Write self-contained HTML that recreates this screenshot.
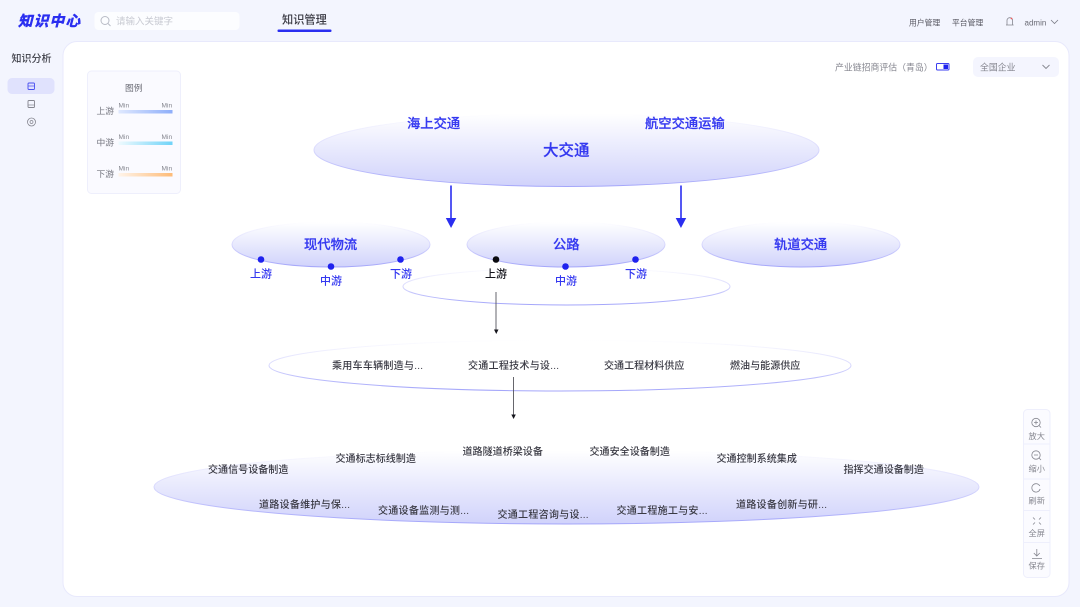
<!DOCTYPE html>
<html lang="zh-CN">
<head>
<meta charset="utf-8">
<title>知识中心</title>
<style>
html,body{margin:0;padding:0;width:1080px;height:607px;overflow:hidden;background:#f3f5fe}
svg{display:block;filter:blur(.3px)}
text{font-family:"Liberation Sans","Noto Sans CJK SC",sans-serif}
</style>
</head>
<body>
<svg width="1080" height="607" viewBox="0 0 1080 607" xmlns="http://www.w3.org/2000/svg">
<defs>
<linearGradient id="ov" x1="0" y1="0" x2="0" y2="1"><stop offset="0" stop-color="#ffffff"/><stop offset="1" stop-color="#d0d2fb"/></linearGradient>
<linearGradient id="st" x1="0" y1="0" x2="0" y2="1"><stop offset="0" stop-color="#ffffff"/><stop offset=".45" stop-color="#dcdcfd"/><stop offset="1" stop-color="#a4a6fa"/></linearGradient>
<linearGradient id="g1"><stop offset="0" stop-color="#dfe8fe"/><stop offset="1" stop-color="#8eaefa"/></linearGradient>
<linearGradient id="g2"><stop offset="0" stop-color="#eefafe"/><stop offset="1" stop-color="#6fd3f8"/></linearGradient>
<linearGradient id="g3"><stop offset="0" stop-color="#fff4ea"/><stop offset="1" stop-color="#fdbb78"/></linearGradient>
</defs>

<rect width="1080" height="607" fill="#f3f5fe"/>
<rect x="63" y="41.500" width="1006" height="555" rx="14" fill="#fff" stroke="#e8e9fc"/>

<!-- header -->
<text x="18" y="26" font-size="14.500" font-weight="700" font-style="italic" fill="#2a2ef0" stroke="#2a2ef0" stroke-width=".5" textLength="62">知识中心</text>
<rect x="94.500" y="12" width="145" height="18" rx="4" fill="#fcfdff"/>
<circle cx="105" cy="20.500" r="4" fill="none" stroke="#b9bcc6"/><line x1="108" y1="23.500" x2="110.500" y2="26" stroke="#b9bcc6"/>
<text x="116" y="24.500" font-size="9.500" fill="#c8cad2">请输入关键字</text>
<text x="282" y="23.500" font-size="11.200" font-weight="500" fill="#3a3a44">知识管理</text>
<rect x="277.500" y="29.500" width="54" height="2.500" rx="1" fill="#2a2ef0"/>
<text x="909" y="25.500" font-size="7.800" fill="#55555f">用户管理</text>
<text x="952" y="25.500" font-size="7.800" fill="#55555f">平台管理</text>
<path d="M1007 25v-4.500a2.800 2.800 0 0 1 5.600 0V25zM1006 25h7.600" fill="none" stroke="#85868f" stroke-width=".8"/>
<circle cx="1011.500" cy="18.500" r=".9" fill="#f05a5a"/>
<text x="1024.500" y="25.500" font-size="8" fill="#6a6b75">admin</text>
<path d="M1051 20l3.500 3.500 3.500-3.500" fill="none" stroke="#7b7c86" stroke-width=".8"/>

<!-- sidebar -->
<text x="11.500" y="62" font-size="10" font-weight="500" fill="#3f4049">知识分析</text>
<rect x="7.500" y="78" width="47" height="16" rx="4.500" fill="#e0e2fd"/>
<rect x="28" y="83" width="6.500" height="6.500" rx="1" fill="none" stroke="#4a50f0" stroke-width=".9"/><line x1="28" y1="86" x2="34.500" y2="86" stroke="#4a50f0" stroke-width=".7"/>
<rect x="28" y="100.500" width="6.500" height="7" rx="1" fill="none" stroke="#85868f" stroke-width=".9"/><line x1="28" y1="105" x2="34.500" y2="105" stroke="#85868f" stroke-width=".7"/>
<circle cx="31.500" cy="122" r="4" fill="none" stroke="#85868f" stroke-width=".8"/><circle cx="31.500" cy="122" r="1.500" fill="none" stroke="#85868f" stroke-width=".7"/>

<!-- legend -->
<rect x="87.500" y="71" width="93" height="122.500" rx="4" fill="#fafaff" stroke="#eeeffc"/>
<text x="125" y="91" font-size="8.800" fill="#6b6c76">图例</text>
<text x="96.500" y="114" font-size="8.800" fill="#74757f">上游</text>
<text x="96.500" y="145.500" font-size="8.800" fill="#74757f">中游</text>
<text x="96.500" y="177" font-size="8.800" fill="#74757f">下游</text>
<g font-size="6.600" fill="#85868f">
<text x="118.500" y="107.500">Min</text><text x="161.500" y="107.500">Min</text>
<text x="118.500" y="139">Min</text><text x="161.500" y="139">Min</text>
<text x="118.500" y="170.500">Min</text><text x="161.500" y="170.500">Min</text>
</g>
<rect x="118.500" y="110" width="54" height="3.500" fill="url(#g1)"/>
<rect x="118.500" y="141.500" width="54" height="3.500" fill="url(#g2)"/>
<rect x="118.500" y="173" width="54" height="3.500" fill="url(#g3)"/>

<!-- top right controls -->
<text x="835" y="70.500" font-size="8.900" fill="#85868f">产业链招商评估（青岛）</text>
<rect x="936.500" y="63.500" width="12.500" height="6.500" rx="1" fill="#fff" stroke="#3a3ef0"/>
<rect x="943.500" y="64.500" width="4.500" height="4.500" fill="#1f22ee"/>
<rect x="973" y="57" width="86" height="20" rx="5" fill="#f4f5fe"/>
<text x="980" y="70.500" font-size="8.900" fill="#85868f">全国企业</text>
<path d="M1042.500 65l3.500 3.500 3.500-3.500" fill="none" stroke="#85868f" stroke-width=".9"/>

<!-- big ellipse -->
<ellipse cx="566.500" cy="150" rx="252.500" ry="36.500" fill="url(#ov)" stroke="url(#st)"/>
<g fill="#3438f0" font-weight="500" stroke="#3438f0" stroke-width=".2">
<text x="407" y="128" font-size="13.300">海上交通</text>
<text x="645" y="128" font-size="13.300">航空交通运输</text>
<text x="543" y="155.500" font-size="15.500">大交通</text>
</g>

<!-- blue arrows -->
<line x1="451" y1="185.500" x2="451" y2="220" stroke="#2a2ef0" stroke-width="1.600"/>
<path d="M445.800 218h10.500l-5.250 10z" fill="#2a2ef0"/>
<line x1="681" y1="185.500" x2="681" y2="220" stroke="#2a2ef0" stroke-width="1.600"/>
<path d="M675.700 218h10.500l-5.250 10z" fill="#2a2ef0"/>

<!-- mid ellipses -->
<ellipse cx="566.500" cy="286.500" rx="163.500" ry="18.500" fill="#fff" stroke="url(#st)"/>
<ellipse cx="331" cy="244.500" rx="99" ry="22.500" fill="url(#ov)" stroke="url(#st)"/>
<ellipse cx="566" cy="244.500" rx="99" ry="22.500" fill="url(#ov)" stroke="url(#st)"/>
<ellipse cx="801" cy="244.500" rx="99" ry="22.500" fill="url(#ov)" stroke="url(#st)"/>
<g fill="#3438f0" font-size="13.300" font-weight="500" stroke="#3438f0" stroke-width=".2">
<text x="304" y="249">现代物流</text>
<text x="553" y="249">公路</text>
<text x="774" y="249">轨道交通</text>
</g>

<!-- dots -->
<g fill="#1f22ee">
<circle cx="261" cy="259.500" r="3.300"/><circle cx="331" cy="266.500" r="3.300"/><circle cx="400.500" cy="259.500" r="3.300"/>
<circle cx="565.500" cy="266.500" r="3.300"/><circle cx="635.500" cy="259.500" r="3.300"/>
</g>
<circle cx="496" cy="259.500" r="3.300" fill="#0a0a0f"/>
<g fill="#3438f0" font-size="11" font-weight="500">
<text x="250" y="277.500">上游</text><text x="320" y="284.500">中游</text><text x="390" y="277.500">下游</text>
<text x="555" y="284.500">中游</text><text x="625" y="277.500">下游</text>
</g>
<text x="485" y="277.500" font-size="11" font-weight="500" fill="#15151c">上游</text>

<!-- black arrow 1 -->
<line x1="496" y1="292" x2="496" y2="330" stroke="#55555c" stroke-width=".9"/>
<path d="M494 329.500h4.500l-2.250 4.500z" fill="#15151c"/>

<!-- second ellipse -->
<ellipse cx="560" cy="365.500" rx="291" ry="25.500" fill="#fff" stroke="url(#st)"/>
<g font-size="10.050" font-weight="500" fill="#3a3a44">
<text x="332" y="369" textLength="91">乘用车车辆制造与...</text>
<text x="468" y="369" textLength="91">交通工程技术与设...</text>
<text x="604" y="369">交通工程材料供应</text>
<text x="730" y="369">燃油与能源供应</text>
</g>

<!-- black arrow 2 -->
<line x1="513.500" y1="377" x2="513.500" y2="415" stroke="#55555c" stroke-width=".9"/>
<path d="M511.300 414.500h4.500l-2.250 4.500z" fill="#15151c"/>

<!-- third ellipse -->
<ellipse cx="566.500" cy="487" rx="412.500" ry="37" fill="url(#ov)" stroke="url(#st)"/>
<g font-size="10.050" font-weight="500" fill="#3a3a44">
<text x="208" y="473">交通信号设备制造</text>
<text x="335.500" y="462">交通标志标线制造</text>
<text x="462.500" y="455">道路隧道桥梁设备</text>
<text x="589.500" y="455">交通安全设备制造</text>
<text x="716.500" y="462">交通控制系统集成</text>
<text x="843.500" y="473">指挥交通设备制造</text>
<text x="259" y="508" textLength="91">道路设备维护与保...</text>
<text x="378" y="514" textLength="91">交通设备监测与测...</text>
<text x="497.500" y="518" textLength="91">交通工程咨询与设...</text>
<text x="616.500" y="514" textLength="91">交通工程施工与安...</text>
<text x="736" y="508" textLength="91">道路设备创新与研...</text>
</g>

<!-- toolbar -->
<rect x="1023.500" y="409.500" width="26.500" height="168" rx="4" fill="#fbfbff" stroke="#eeeffc"/>
<g stroke="#eeeffc"><line x1="1024" y1="444" x2="1050" y2="444"/><line x1="1024" y1="479" x2="1050" y2="479"/><line x1="1024" y1="510.500" x2="1050" y2="510.500"/><line x1="1024" y1="542.500" x2="1050" y2="542.500"/></g>
<g fill="none" stroke="#85868f" stroke-width=".8">
<circle cx="1036" cy="422.500" r="4.200"/><path d="M1039 425.500l2 2M1034 422.500h4M1036 420.500v4"/>
<circle cx="1036" cy="455" r="4.200"/><path d="M1039 458l2 2M1034 455h4"/>
<path d="M1039.800 486a4.200 4.200 0 1 0 .3 3"/>
<path d="M1033 517.500l2 2M1041 517.500l-2 2M1033 524.500l2-2M1041 524.500l-2-2"/>
<path d="M1036.800 549v7M1033.800 553l3 3 3-3M1032 558.500h10"/>
</g>
<g font-size="8.200" fill="#85868f">
<text x="1028.500" y="439">放大</text>
<text x="1028.500" y="471.500">缩小</text>
<text x="1028.500" y="503.500">刷新</text>
<text x="1028.500" y="536">全屏</text>
<text x="1028.500" y="568.500">保存</text>
</g>
</svg>
</body>
</html>
